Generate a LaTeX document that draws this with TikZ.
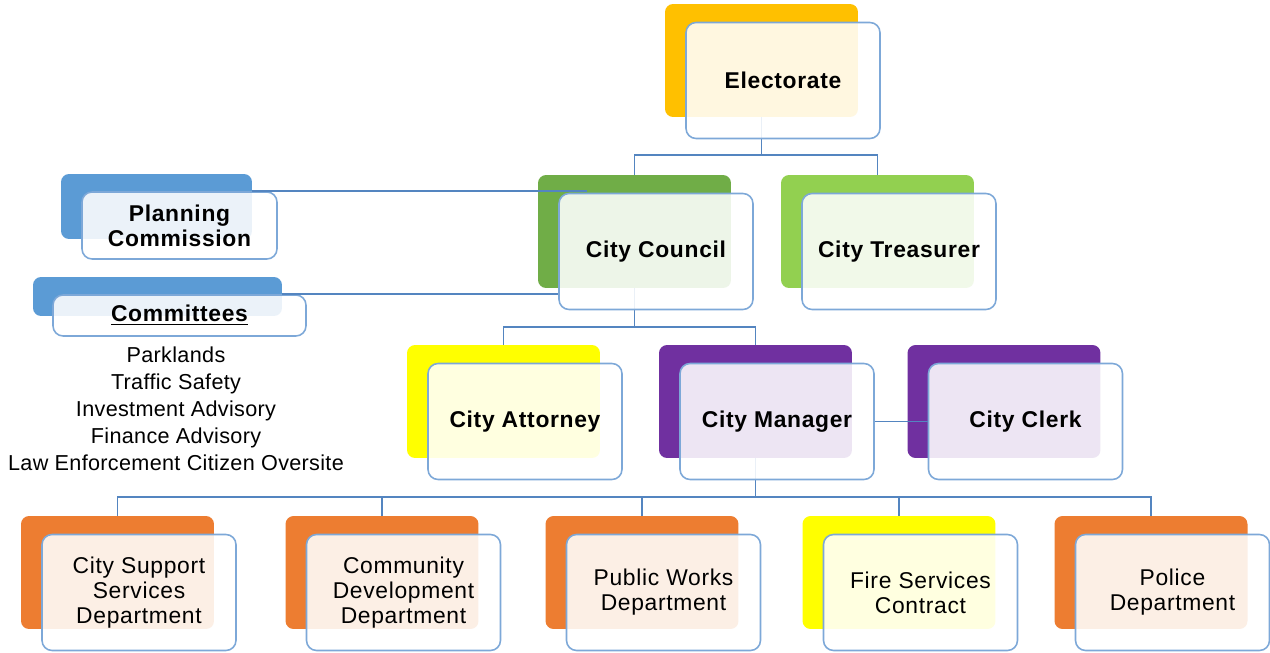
\documentclass[tikz,border=0pt]{standalone}
\usepackage{fontspec}
\setmainfont{Liberation Sans}
\newfontfamily\lblfont[LetterSpace=3]{Liberation Sans}
\newfontfamily\lstfont[LetterSpace=1.5]{Liberation Sans}
\definecolor{gold}{HTML}{FFC000}
\definecolor{dkgreen}{HTML}{70AD47}
\definecolor{ltgreen}{HTML}{92D050}
\definecolor{midblue}{HTML}{5B9BD5}
\definecolor{yel}{HTML}{FFFF00}
\definecolor{purp}{HTML}{7030A0}
\definecolor{orng}{HTML}{ED7D31}
\definecolor{boxline}{RGB}{125,168,216}
\definecolor{connline}{RGB}{84,133,192}
\begin{document}
\begin{tikzpicture}[x=0.02cm,y=-0.02cm,
  back/.style={fill=#1, draw=none, rounded corners=0.16cm, minimum width=3.86cm, minimum height=2.26cm, inner sep=0pt},
  front/.style={fill=white, fill opacity=0.88, text opacity=1, draw=boxline, line width=0.9pt, rounded corners=0.2cm, minimum width=3.88cm, minimum height=2.32cm, inner sep=0pt, align=center, xshift=0.43cm, yshift=-0.40cm},
  boldlbl/.style={font=\lblfont\bfseries\fontsize{13}{14.2}\selectfont},
  plainlbl/.style={font=\lblfont\fontsize{13}{14.2}\selectfont},
  conn/.style={draw=connline, line width=1pt}]
\fill[white] (0,0) rectangle (1270,652);
\useasboundingbox (0,0) rectangle (1270,652);
% back rectangles
\node[back=gold] (elB) at (761.5,60.5) {};
\node[back=dkgreen] (coB) at (634.5,231.5) {};
\node[back=ltgreen] (trB) at (877.5,231.5) {};
\node[back=midblue, minimum width=3.82cm, minimum height=1.30cm] (pcB) at (156.5,206.5) {};
\node[back=midblue, minimum width=4.98cm, minimum height=0.78cm] (cmB) at (157.5,296.5) {};
\node[back=yel] (atB) at (503.5,401.5) {};
\node[back=purp] (maB) at (755.5,401.5) {};
\node[back=purp] (clB) at (1004,401.5) {};
\node[back=orng] (d1B) at (117.5,572.5) {};
\node[back=orng] (d2B) at (382,572.5) {};
\node[back=orng] (d3B) at (642,572.5) {};
\node[back=yel] (d4B) at (899,572.5) {};
\node[back=orng] (d5B) at (1151,572.5) {};
% connectors
\coordinate (bus1) at (0,155);
\coordinate (bus2) at (0,327);
\coordinate (bus3) at (0,497);
\draw[conn] (elB.south) -- (elB.south |- bus1) -| (coB.north);
\draw[conn] (elB.south |- bus1) -| (trB.north);
\draw[conn] (coB.south) -- (coB.south |- bus2) -| (atB.north);
\draw[conn] (coB.south |- bus2) -| (maB.north);
\draw[conn] (maB.south) -- (maB.south |- bus3) -| (d1B.north);
\draw[conn] (maB.south |- bus3) -| (d2B.north);
\draw[conn] (maB.south |- bus3) -| (d3B.north);
\draw[conn] (maB.south |- bus3) -| (d4B.north);
\draw[conn] (maB.south |- bus3) -| (d5B.north);
% front boxes
\node[front, boldlbl] (elF) at (elB) {Electorate};
\node[front, boldlbl] (coF) at (coB) {City Council};
\node[front, boldlbl] (trF) at (trB) {City Treasurer};
\node[front, boldlbl, minimum width=3.9cm, minimum height=1.34cm, xshift=0.03cm, yshift=0.02cm] (pcF) at (pcB) {Planning\\Commission};
\node[front, boldlbl, minimum width=5.06cm, minimum height=0.82cm, xshift=0.01cm, yshift=0.02cm] (cmF) at (cmB) {\underline{Committees}};
\coordinate (pcend) at ([xshift=0.58cm]coF.north west);
\draw[conn] (pcF.north -| pcB.east) -- (pcF.north -| pcend);
\draw[conn] (cmF.north -| cmB.east) -- (cmF.north -| coF.west);
\node[front, boldlbl] (atF) at (atB) {City Attorney};
\node[front, boldlbl] (maF) at (maB) {City Manager};
\node[front, boldlbl] (clF) at (clB) {City Clerk};
\draw[conn] (maF.east) -- (clF.west);
\node[front, plainlbl] (d1F) at (d1B) {City Support\\Services\\Department};
\node[front, plainlbl] (d2F) at (d2B) {Community\\Development\\Department};
\node[front, plainlbl] (d3F) at (d3B) {Public Works\\Department};
\node[front, plainlbl] (d4F) at (d4B) {Fire Services\\Contract};
\node[front, plainlbl] (d5F) at (d5B) {Police\\Department};
\node[align=center, inner sep=0pt, font=\lstfont\fontsize{12.3}{15.4}\selectfont] (list) at (176,409) {Parklands\\Traffic Safety\\Investment Advisory\\Finance Advisory\\Law Enforcement Citizen Oversite};
\end{tikzpicture}
\end{document}
